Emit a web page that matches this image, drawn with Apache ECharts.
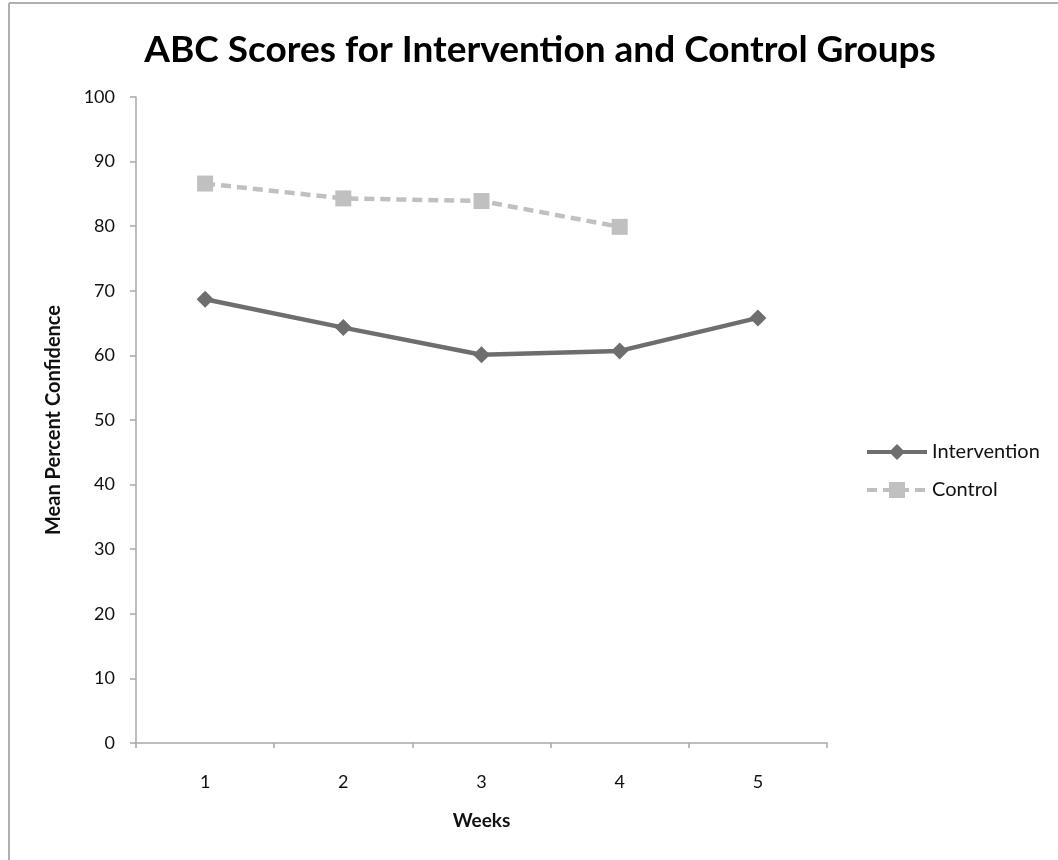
<!DOCTYPE html>
<html>
<head>
<meta charset="utf-8">
<script src="https://cdn.jsdelivr.net/npm/echarts@6/dist/echarts.min.js"></script>
<style>
html,body{margin:0;padding:0;background:#fff;}
#c{width:1058px;height:860px;}
</style>
</head>
<body>
<div id="c"></div>
<script>
const weeks = ['1', '2', '3', '4', '5'];
const intervention = [68.7, 64.3, 60.1, 60.7, 65.8];
const control = [86.6, 84.3, 83.9, 79.9];
const yTicks = { min: 0, max: 100, interval: 10 };

const chart = echarts.init(document.getElementById('c'), null, { renderer: 'canvas' });
const font = 'Lato, "Open Sans", sans-serif';
chart.setOption({
  animation: false,
  backgroundColor: '#fff',
  title: {
    text: 'ABC Scores for Intervention and Control Groups',
    left: 535, top: 27, textAlign: 'center',
    textStyle: { fontFamily: font, fontWeight: 'bold', fontSize: 37, color: '#000' }
  },
  graphic: [
    { type: 'line', shape: { x1: 9, y1: 3, x2: 1058, y2: 3 }, style: { stroke: '#b0b0b0', lineWidth: 2 } },
    { type: 'line', shape: { x1: 9, y1: 3, x2: 9, y2: 860 }, style: { stroke: '#b0b0b0', lineWidth: 2 } }
  ],
  legend: {
    orient: 'vertical',
    left: 860, top: 437,
    itemWidth: 60, itemHeight: 20, itemGap: 18,
    lineStyle: { width: 4 },
    textStyle: { fontFamily: font, fontSize: 20, color: '#111', padding: [0, 0, 0, 0] },
    data: ['Intervention', 'Control']
  },
  grid: { left: 136, right: 231, top: 97, bottom: 117, containLabel: false },
  xAxis: {
    type: 'category', data: weeks, boundaryGap: true,
    name: 'Weeks', nameLocation: 'middle', nameGap: 68,
    nameTextStyle: { fontFamily: font, fontWeight: 'bold', fontSize: 19, color: '#111' },
    axisLine: { lineStyle: { color: '#a8a8a8', width: 1.5 } },
    axisTick: { show: true, length: 5, lineStyle: { color: '#a8a8a8', width: 1.5 } },
    axisLabel: { margin: 30, fontFamily: font, fontSize: 18, color: '#111' },
    splitLine: { show: false }
  },
  yAxis: {
    type: 'value', min: yTicks.min, max: yTicks.max, interval: yTicks.interval,
    name: 'Mean Percent Confidence', nameLocation: 'middle', nameGap: 72, nameRotate: 90,
    nameTextStyle: { fontFamily: font, fontWeight: 'bold', fontSize: 20, color: '#111' },
    axisLine: { show: true, lineStyle: { color: '#a8a8a8', width: 1.5 } },
    axisTick: { show: true, length: 6, lineStyle: { color: '#a8a8a8', width: 1.5 } },
    axisLabel: { margin: 21, fontFamily: font, fontSize: 18, color: '#111' },
    splitLine: { show: false }
  },
  series: [
    {
      name: 'Intervention', type: 'line', data: intervention,
      symbol: 'diamond', symbolSize: 17,
      lineStyle: { color: '#6e6e6e', width: 4.5 },
      itemStyle: { color: '#6e6e6e' }
    },
    {
      name: 'Control', type: 'line', data: control,
      symbol: 'rect', symbolSize: 16,
      lineStyle: { color: '#c0c0c0', width: 4.5, type: [10, 6] },
      itemStyle: { color: '#c0c0c0' }
    }
  ]
});
</script>
</body>
</html>
